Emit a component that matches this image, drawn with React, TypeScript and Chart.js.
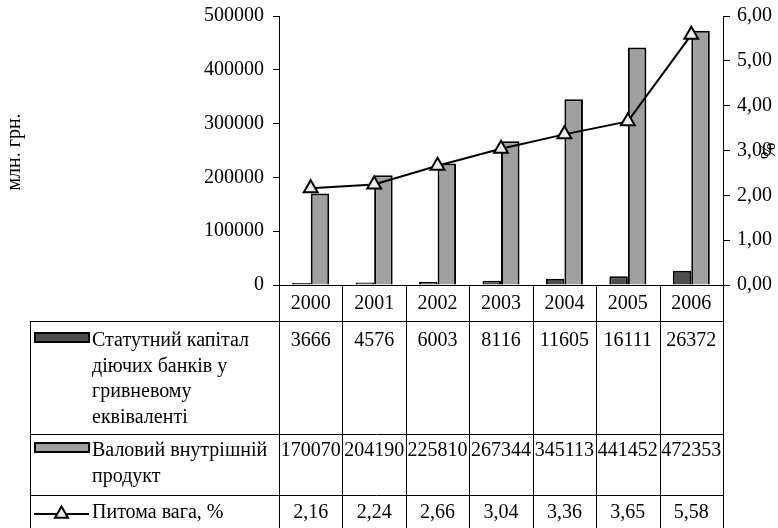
import React, { useEffect, useRef } from 'react';
import { Chart, registerables } from 'chart.js';

Chart.register(...registerables);

const years = ['2000', '2001', '2002', '2003', '2004', '2005', '2006'];
const capital = [3666, 4576, 6003, 8116, 11605, 16111, 26372];
const gdp = [170070, 204190, 225810, 267344, 345113, 441452, 472353];
const share = [2.16, 2.24, 2.66, 3.04, 3.36, 3.65, 5.58];

const leftMax = 500000;
const leftStep = 100000;
const rightMax = 6;
const rightStep = 1;

const capitalName = ['Статутний капітал', 'діючих банків у', 'гривневому', 'еквіваленті'];
const gdpName = ['Валовий внутрішній', 'продукт'];
const shareName = ['Питома вага, %'];
const leftTitle = 'млн. грн.';
const rightTitle = '%';

const FONT = '"Liberation Serif", "Times New Roman", serif';
const FS = 20;
const DARK = '#4d4d4d';
const GRAY = '#a0a0a0';
const MARK = '#eeeeee';

const fmtComma = (v: number) => v.toFixed(2).replace('.', ',');

function triangle(ctx: CanvasRenderingContext2D, x: number, y: number, r: number) {
  ctx.beginPath();
  let rad = 0;
  for (let k = 0; k < 3; k++) {
    const px = x + Math.sin(rad) * r;
    const py = y - Math.cos(rad) * r;
    if (k === 0) ctx.moveTo(px, py);
    else ctx.lineTo(px, py);
    rad += (2 * Math.PI) / 3;
  }
  ctx.closePath();
}

const tablePlugin = {
  id: 'dataTable',
  afterDraw(chart: any) {
    const { ctx, chartArea: a, scales } = chart;
    const xs = scales.x;
    const n = years.length;
    const colW = (a.right - a.left) / n;
    const top = a.bottom;
    const rowY = [top, top + 36, top + 149, top + 210];
    const bottom = chart.height;
    const tableLeft = 30;
    ctx.save();
    ctx.strokeStyle = '#000';
    ctx.lineWidth = 1;
    ctx.beginPath();
    const hy = (y: number) => Math.round(y) + 0.5;
    ctx.moveTo(a.left, hy(top));
    ctx.lineTo(a.right, hy(top));
    for (let r = 1; r < rowY.length; r++) {
      ctx.moveTo(tableLeft, hy(rowY[r]));
      ctx.lineTo(a.right, hy(rowY[r]));
    }
    ctx.moveTo(tableLeft + 0.5, rowY[1]);
    ctx.lineTo(tableLeft + 0.5, bottom);
    for (let i = 0; i <= n; i++) {
      const x = Math.round(a.left + i * colW) + 0.5;
      ctx.moveTo(x, top);
      ctx.lineTo(x, bottom);
    }
    ctx.stroke();

    ctx.fillStyle = '#000';
    ctx.font = `${FS}px ${FONT}`;
    ctx.textBaseline = 'middle';
    ctx.textAlign = 'center';
    for (let i = 0; i < n; i++) {
      const cx = xs.getPixelForValue(i);
      ctx.fillText(years[i], cx, rowY[0] + 19);
      ctx.fillText(String(capital[i]), cx, rowY[1] + 20);
      ctx.fillText(String(gdp[i]), cx, rowY[2] + 17);
      ctx.fillText(fmtComma(share[i]), cx, rowY[3] + 18);
    }

    // legend labels
    ctx.textAlign = 'left';
    const lx = 92;
    const step = 25.5;
    capitalName.forEach((t, k) => ctx.fillText(t, lx, rowY[1] + 20 + k * step));
    gdpName.forEach((t, k) => ctx.fillText(t, lx, rowY[2] + 17 + k * step));
    shareName.forEach((t, k) => ctx.fillText(t, lx, rowY[3] + 18 + k * step));

    // keys
    ctx.lineWidth = 2;
    const keyRect = (cy: number, color: string) => {
      ctx.fillStyle = color;
      ctx.fillRect(35, cy - 8, 54, 9);
      ctx.strokeRect(35, cy - 8, 54, 9);
    };
    keyRect(rowY[1] + 20, DARK);
    keyRect(rowY[2] + 17, GRAY);
    const ly = rowY[3] + 19;
    ctx.beginPath();
    ctx.moveTo(34, ly);
    ctx.lineTo(89, ly);
    ctx.stroke();
    triangle(ctx, 61.5, ly, 7.5);
    ctx.fillStyle = MARK;
    ctx.fill();
    ctx.stroke();

    // axis titles
    ctx.fillStyle = '#000';
    ctx.textAlign = 'center';
    ctx.save();
    ctx.translate(15, 152);
    ctx.rotate(-Math.PI / 2);
    ctx.fillText(leftTitle, 0, 0);
    ctx.restore();
    ctx.save();
    ctx.translate(770, 151);
    ctx.rotate(-Math.PI / 2);
    ctx.fillText(rightTitle, 0, 0);
    ctx.restore();

    ctx.restore();
  },
};

export default function App() {
  const ref = useRef<HTMLCanvasElement | null>(null);
  useEffect(() => {
    if (!ref.current) return;
    const chart = new Chart(ref.current, {
      type: 'bar',
      data: {
        labels: years,
        datasets: [
          {
            type: 'line',
            label: shareName[0],
            data: share,
            yAxisID: 'y1',
            borderColor: '#000',
            borderWidth: 2,
            pointStyle: 'triangle',
            pointRadius: 8,
            pointBackgroundColor: MARK,
            pointBorderColor: '#000',
            pointBorderWidth: 2,
            tension: 0,
            order: 0,
          } as any,
          {
            label: capitalName.join(' '),
            data: capital,
            yAxisID: 'y',
            backgroundColor: DARK,
            borderColor: '#000',
            borderWidth: 2,
            order: 1,
          },
          {
            label: gdpName.join(' '),
            data: gdp,
            yAxisID: 'y',
            backgroundColor: GRAY,
            borderColor: '#000',
            borderWidth: 2,
            order: 1,
          },
        ],
      },
      options: {
        responsive: false,
        animation: false,
        devicePixelRatio: 1,
        layout: { padding: { top: 16, left: 0, right: 0, bottom: 0 } },
        datasets: { bar: { categoryPercentage: 0.584, barPercentage: 1 } },
        plugins: { legend: { display: false }, tooltip: { enabled: false } },
        font: { family: FONT, size: FS },
        scales: {
          x: {
            ticks: { display: false },
            grid: { display: false },
            border: { display: false },
            afterFit: (s: any) => {
              s.height = 243;
              s.paddingLeft = 0;
              s.paddingRight = 0;
            },
          },
          y: {
            position: 'left',
            min: 0,
            max: leftMax,
            ticks: {
              stepSize: leftStep,
              color: '#000',
              font: { family: FONT, size: FS },
              padding: 9,
              callback: (v: any) => String(v),
            },
            grid: { drawOnChartArea: false, tickLength: 6, color: '#000', lineWidth: 1 },
            border: { color: '#000', width: 1 },
            afterFit: (s: any) => {
              s.width = 279;
              s.paddingTop = 0;
              s.paddingBottom = 0;
            },
          },
          y1: {
            position: 'right',
            min: 0,
            max: rightMax,
            ticks: {
              stepSize: rightStep,
              color: '#000',
              font: { family: FONT, size: FS },
              padding: 7,
              callback: (v: any) => fmtComma(Number(v)),
            },
            grid: { drawOnChartArea: false, tickLength: 7, color: '#000', lineWidth: 1 },
            border: { color: '#000', width: 1 },
            afterFit: (s: any) => {
              s.width = 55;
              s.paddingTop = 0;
              s.paddingBottom = 0;
            },
          },
        },
      } as any,
      plugins: [tablePlugin],
    });
    return () => chart.destroy();
  }, []);
  return (
    <div style={{ position: 'fixed', left: 0, top: 0, width: 778, height: 528, background: '#fff' }}>
      <canvas ref={ref} width={778} height={528} style={{ display: 'block' }} />
    </div>
  );
}
